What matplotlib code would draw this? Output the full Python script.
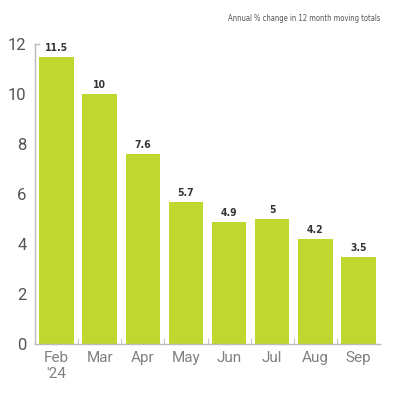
import matplotlib.pyplot as plt
import numpy as np

months = ["Feb\n'24", "Mar", "Apr", "May", "Jun", "Jul", "Aug", "Sep"]
values = [11.5, 10, 7.6, 5.7, 4.9, 5, 4.2, 3.5]
value_labels = ["11.5", "10", "7.6", "5.7", "4.9", "5", "4.2", "3.5"]

fig = plt.figure(figsize=(4, 4), dpi=100)
ax = fig.add_axes([0.0875, 0.14, 0.8625, 0.75])

x = np.arange(len(months))
bars = ax.bar(x, values, width=0.8, color="#c0d72f")

for xi, v, lab in zip(x, values, value_labels):
    ax.text(xi, v + 0.15, lab, ha="center", va="bottom", fontsize=7.5,
            fontweight="bold", family="DejaVu Sans", fontstretch="condensed", color="#333333")

ax.set_xlim(-0.5, len(months) - 0.5)
ax.set_ylim(0, 12)
ax.set_yticks([0, 2, 4, 6, 8, 10, 12])
ax.set_xticks(x)
ax.set_xticklabels(months)
ax.set_xticks(np.arange(0.5, len(months) - 0.5, 1), minor=True)

ax.tick_params(axis="y", length=0, labelsize=12, labelcolor="#555555", pad=6)
ax.tick_params(axis="x", which="major", length=0, labelsize=11, labelcolor="#808080", pad=5)
ax.tick_params(axis="x", which="minor", length=4, direction="in", color="#bbbbbb")
for lab in ax.get_yticklabels() + ax.get_xticklabels():
    lab.set_family("Roboto")

ax.plot([0, 0.012], [12, 12], transform=ax.get_yaxis_transform(), color="#bbbbbb", lw=1, clip_on=False)

for s in ["top", "right"]:
    ax.spines[s].set_visible(False)
for s in ["left", "bottom"]:
    ax.spines[s].set_color("#bbbbbb")
    ax.spines[s].set_linewidth(1)

fig.text(0.95, 0.953, "Annual % change in 12 month moving totals", ha="right", va="center",
         fontsize=5.5, family="DejaVu Sans", fontstretch="condensed", color="#555555")

fig.savefig("out.png")
